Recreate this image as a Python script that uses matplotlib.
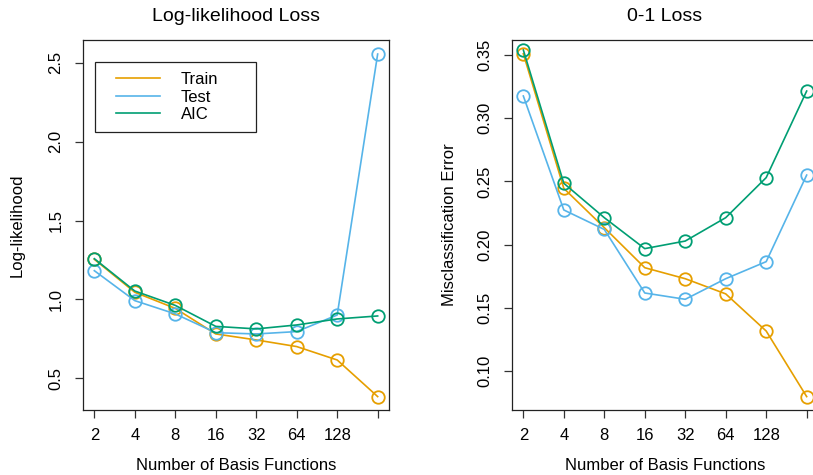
import matplotlib
matplotlib.use("Agg")
import matplotlib.pyplot as plt
from matplotlib.legend_handler import HandlerLine2D
import numpy as np

plt.rcParams["font.family"] = ["Liberation Sans", "DejaVu Sans"]

# number of basis functions (last one 256 has no tick label)
n_basis = [2, 4, 8, 16, 32, 64, 128, 256]
tick_labels = ["2", "4", "8", "16", "32", "64", "128", ""]

# log-likelihood loss
ll_train = [1.254, 1.045, 0.943, 0.781, 0.743, 0.701, 0.616, 0.384]
ll_test = [1.182, 0.992, 0.908, 0.789, 0.781, 0.796, 0.901, 2.555]
ll_aic = [1.258, 1.053, 0.962, 0.829, 0.813, 0.838, 0.876, 0.895]

# 0-1 loss
err_train = [0.351, 0.2445, 0.2134, 0.1817, 0.173, 0.161, 0.1316, 0.0797]
err_test = [0.3176, 0.2274, 0.212, 0.1617, 0.1567, 0.173, 0.1865, 0.255]
err_aic = [0.354, 0.2485, 0.2213, 0.1968, 0.2028, 0.2213, 0.253, 0.3215]

c_train = "#E69F00"
c_test = "#56B4E9"
c_aic = "#009E73"


class InsetLine(HandlerLine2D):
    # R style legend: line starts a bit inside the handle box, no marker
    def create_artists(self, legend, orig_handle, xdescent, ydescent,
                       width, height, fontsize, trans):
        arts = super().create_artists(legend, orig_handle, xdescent, ydescent,
                                      width, height, fontsize, trans)
        for a in arts:
            a.set_marker("")
            yd = a.get_ydata()
            a.set_data([-xdescent + 8, -xdescent + width], [yd[0], yd[0]])
        return arts


W, H = 813, 475
fig = plt.figure(figsize=(W / 100, H / 100), dpi=100)
ax1 = fig.add_axes([83 / W, (H - 410) / H, 306 / W, 370 / H])
ax2 = fig.add_axes([512 / W, (H - 410) / H, 306 / W, 370 / H])

x = np.log2(n_basis)

def draw(ax, series):
    for vals, col, lab in series:
        ax.plot(x, vals, color=col, lw=1.2, marker="o", ms=9, mfc="none",
                mec=col, mew=1.3, label=lab)
    ax.set_xticks(x)
    ax.set_xticklabels(tick_labels)
    ax.set_xlim(x[0] - 0.28, x[-1] + 0.28)
    ax.tick_params(direction="out", length=6, width=0.9, labelsize=12,
                   color="#333333")
    ax.tick_params(axis="x", pad=7)
    ax.tick_params(axis="y", pad=8)
    for s in ax.spines.values():
        s.set_linewidth(0.9)
        s.set_color("#222222")
    ax.set_xlabel("Number of Basis Functions", fontsize=12, labelpad=11)

draw(ax1, [(ll_train, c_train, "Train"), (ll_test, c_test, "Test"),
           (ll_aic, c_aic, "AIC")])
ax1.set_ylim(0.299, 2.644)
ax1.set_yticks([0.5, 1.0, 1.5, 2.0, 2.5])
ax1.set_yticklabels(["0.5", "1.0", "1.5", "2.0", "2.5"], rotation=90, va="center")
ax1.set_ylabel("Log-likelihood", fontsize=12, labelpad=17)
ax1.set_title("Log-likelihood Loss", fontsize=14, pad=14)
leg = ax1.legend(loc="upper left", bbox_to_anchor=(0.039, 0.7514, 0.526, 0.1891),
                 mode="expand", borderaxespad=0, fancybox=False,
                 edgecolor="#222222", framealpha=1, fontsize=12,
                 handlelength=3.3, handletextpad=1.25, labelspacing=0.15,
                 borderpad=0.6, handler_map={plt.Line2D: InsetLine()})
leg.get_frame().set_linewidth(0.9)

draw(ax2, [(err_train, c_train, "Train"), (err_test, c_test, "Test"),
           (err_aic, c_aic, "AIC")])
ax2.set_ylim(0.0691, 0.3619)
ax2.set_yticks([0.10, 0.15, 0.20, 0.25, 0.30, 0.35])
ax2.set_yticklabels(["0.10", "0.15", "0.20", "0.25", "0.30", "0.35"],
                    rotation=90, va="center")
ax2.set_ylabel("Misclassification Error", fontsize=12, labelpad=15)
ax2.set_title("0-1 Loss", fontsize=14, pad=14)

fig.savefig("out.png", dpi=100)
